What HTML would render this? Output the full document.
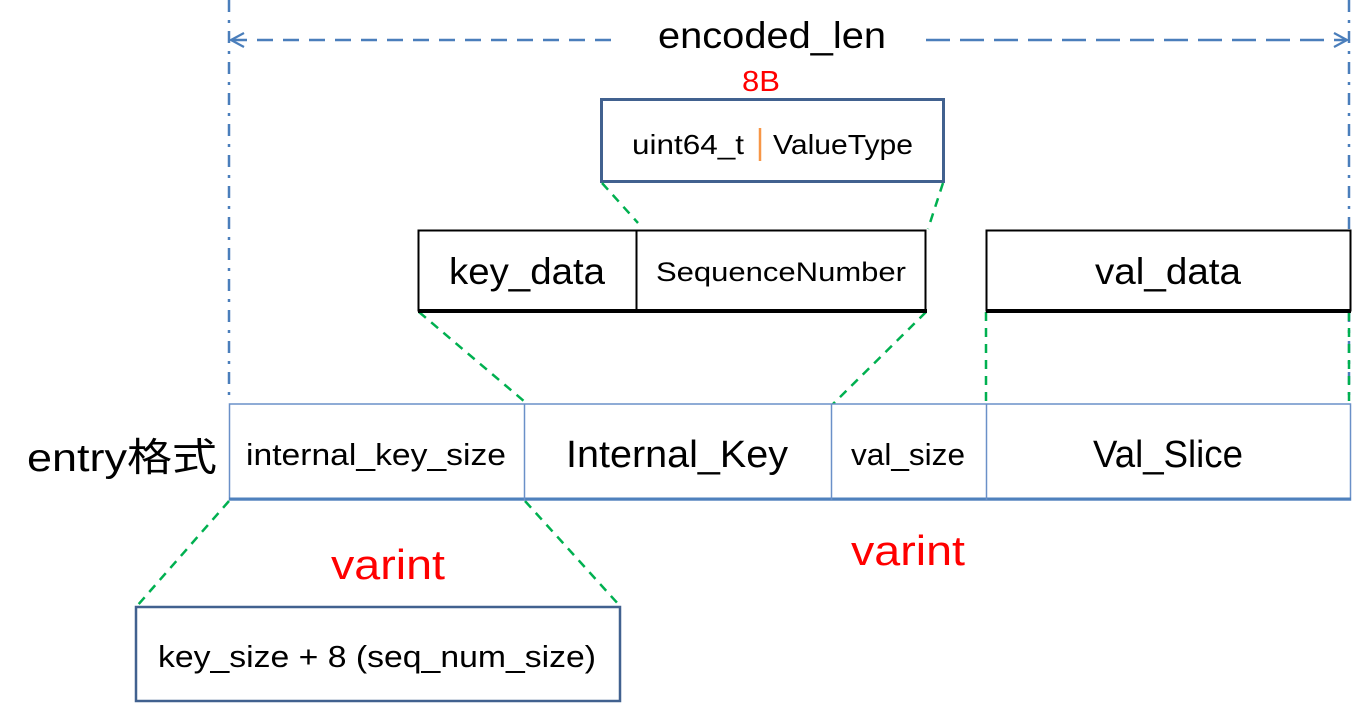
<!DOCTYPE html>
<html><head><meta charset="utf-8"><style>
html,body{margin:0;padding:0;background:#fff;}
svg{display:block;}
text{font-family:"Liberation Sans","Noto Sans CJK SC",sans-serif;}
</style></head><body>
<svg width="1368" height="704" viewBox="0 0 1368 704" xmlns="http://www.w3.org/2000/svg">
<line x1="229" y1="0" x2="229" y2="395" stroke="#4a7ebb" stroke-width="2.5" stroke-dasharray="12,8,3,8"/>
<line x1="1349" y1="0" x2="1349" y2="402" stroke="#4a7ebb" stroke-width="2.5" stroke-dasharray="12,8,3,8"/>
<line x1="231" y1="40" x2="620" y2="40" stroke="#4a7ebb" stroke-width="2.5" stroke-dasharray="16,10"/>
<line x1="926" y1="40" x2="1347" y2="40" stroke="#4a7ebb" stroke-width="2.5" stroke-dasharray="24,10"/>
<polyline points="244,33 231,40 244,47" fill="none" stroke="#4a7ebb" stroke-width="2.2"/>
<polyline points="1334,33 1347,40 1334,47" fill="none" stroke="#4a7ebb" stroke-width="2.2"/>
<text x="772" y="48" font-size="37" text-anchor="middle" textLength="228" lengthAdjust="spacingAndGlyphs">encoded_len</text>
<text x="761" y="91" font-size="29" fill="#ff0000" text-anchor="middle" textLength="38" lengthAdjust="spacingAndGlyphs">8B</text>
<rect x="601.5" y="99.5" width="342" height="82" fill="#fff" stroke="#41618f" stroke-width="3"/>
<text x="688" y="154" font-size="28" text-anchor="middle" textLength="112" lengthAdjust="spacingAndGlyphs">uint64_t</text>
<line x1="760" y1="128" x2="760" y2="161" stroke="#f79646" stroke-width="2.5"/>
<text x="843" y="154" font-size="28" text-anchor="middle" textLength="140" lengthAdjust="spacingAndGlyphs">ValueType</text>
<g stroke="#00b050" stroke-width="2.5" stroke-dasharray="9,7" fill="none">
<line x1="602" y1="183" x2="638" y2="223"/>
<line x1="943" y1="183" x2="928" y2="229"/>
<line x1="419" y1="312" x2="525" y2="402"/>
<line x1="926" y1="312" x2="832" y2="405"/>
<line x1="986" y1="312" x2="986" y2="404"/>
<line x1="1349" y1="312" x2="1349" y2="402"/>
<line x1="229" y1="501" x2="137" y2="606"/>
<line x1="525" y1="501" x2="620" y2="606"/>
</g>
<rect x="418.5" y="230.5" width="507" height="80" fill="#fff" stroke="#000" stroke-width="2"/>
<line x1="418" y1="311" x2="927" y2="311" stroke="#000" stroke-width="4"/>
<line x1="636.5" y1="230" x2="636.5" y2="311" stroke="#000" stroke-width="2"/>
<text x="527" y="284" font-size="37" text-anchor="middle" textLength="156" lengthAdjust="spacingAndGlyphs">key_data</text>
<text x="781" y="281" font-size="27" text-anchor="middle" textLength="250" lengthAdjust="spacingAndGlyphs">SequenceNumber</text>
<rect x="986.5" y="230.5" width="364" height="80" fill="#fff" stroke="#000" stroke-width="2"/>
<line x1="986" y1="311" x2="1351" y2="311" stroke="#000" stroke-width="4"/>
<text x="1168" y="284" font-size="37" text-anchor="middle" textLength="146" lengthAdjust="spacingAndGlyphs">val_data</text>
<rect x="229.5" y="404" width="1121" height="96" fill="#fff" stroke="#6a90c8" stroke-width="1.5"/>
<line x1="229" y1="499" x2="1351" y2="499" stroke="#4f81bd" stroke-width="3"/>
<line x1="524.5" y1="404" x2="524.5" y2="500" stroke="#6a90c8" stroke-width="1.5"/>
<line x1="831.5" y1="404" x2="831.5" y2="500" stroke="#6a90c8" stroke-width="1.5"/>
<line x1="986.5" y1="404" x2="986.5" y2="500" stroke="#6a90c8" stroke-width="1.5"/>
<text x="27" y="471" font-size="39" textLength="190" lengthAdjust="spacingAndGlyphs">entry格式</text>
<text x="376" y="465" font-size="31" text-anchor="middle" textLength="260" lengthAdjust="spacingAndGlyphs">internal_key_size</text>
<text x="677" y="467" font-size="38" text-anchor="middle" textLength="222" lengthAdjust="spacingAndGlyphs">Internal_Key</text>
<text x="908" y="465" font-size="31" text-anchor="middle" textLength="114" lengthAdjust="spacingAndGlyphs">val_size</text>
<text x="1168" y="467" font-size="38" text-anchor="middle" textLength="150" lengthAdjust="spacingAndGlyphs">Val_Slice</text>
<text x="388" y="579" font-size="42" fill="#ff0000" text-anchor="middle" textLength="114" lengthAdjust="spacingAndGlyphs">varint</text>
<text x="908" y="565" font-size="42" fill="#ff0000" text-anchor="middle" textLength="114" lengthAdjust="spacingAndGlyphs">varint</text>
<rect x="136" y="607" width="484" height="94" fill="#fff" stroke="#41618f" stroke-width="2.5"/>
<text x="377" y="667" font-size="31" text-anchor="middle" textLength="438" lengthAdjust="spacingAndGlyphs">key_size  + 8 (seq_num_size)</text>
</svg>
</body></html>
